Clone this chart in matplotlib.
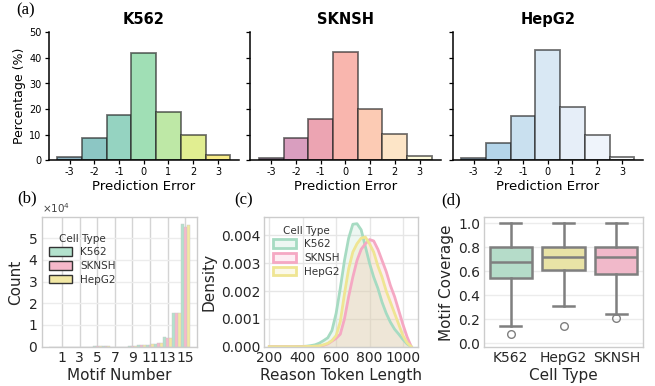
import matplotlib
matplotlib.use('Agg')
import matplotlib.pyplot as plt
import numpy as np
from matplotlib.patches import Patch
from matplotlib.ticker import ScalarFormatter

# ---------------- data ----------------
errors = [-3, -2, -1, 0, 1, 2, 3]
error_labels = ['-3', '-2', '-1', '0', '1', '2', '3']
pct_k562 = [1.2, 8.7, 17.8, 41.8, 18.9, 9.8, 1.9]
pct_sknsh = [0.8, 8.7, 16.3, 42.3, 19.9, 10.4, 1.7]
pct_hepg2 = [1.0, 6.9, 17.2, 43.2, 20.8, 9.9, 1.3]

colors_k562_a = ['#8fb3c2', '#8cc6c4', '#95d3c1', '#a0dfb5', '#bee8a6', '#e1ee91', '#f7eb87']
colors_sknsh_a = ['#b89cbc', '#d99ebf', '#eca4b2', '#f9b6ae', '#fccbb4', '#fde5c7', '#fefbdc']
colors_hepg2_a = ['#a9c8de', '#b4d5ea', '#c9e0ef', '#d9e8f4', '#e6eef8', '#eff4fb', '#fafcfe']

motif_numbers = list(range(0, 16))
count_k562 = [0, 0, 0, 0, 0, 100, 200, 0, 40, 500, 600, 1000, 1400, 4500, 15500, 56500]
count_sknsh = [0, 0, 0, 0, 0, 100, 200, 0, 60, 500, 700, 1000, 1500, 4100, 15500, 55200]
count_hepg2 = [0, 0, 0, 0, 0, 100, 200, 0, 60, 500, 700, 1200, 1500, 4100, 15500, 56000]

token_len = [200, 225, 250, 275, 300, 325, 350, 375, 400, 425, 450, 475, 500, 525, 550, 575,
             600, 625, 650, 675, 700, 725, 750, 775, 800, 825, 850, 875, 900, 925, 950, 975,
             1000, 1025, 1050]
dens_k562 = [0, 0, 0, 0, 0, 0, 0, 0.00001, 0.00001, 0.00002, 0.00004, 0.00007, 0.00013, 0.00022,
             0.00032, 0.00058, 0.0012, 0.0021, 0.0031, 0.0039, 0.0044, 0.00442, 0.0042, 0.0036,
             0.0030, 0.0025, 0.0021, 0.0016, 0.0012, 0.00088, 0.00063, 0.00045, 0.00026, 0.0001, 0.0]
dens_sknsh = [0, 0, 0, 0, 0, 0, 0, 0, 0, 0.00001, 0.00001, 0.00001, 0.00002, 0.00005,
              0.0001, 0.0002, 0.0003, 0.00045, 0.0010, 0.0018, 0.0025, 0.0031, 0.0035, 0.0037,
              0.00385, 0.0038, 0.0035, 0.0031, 0.0027, 0.0022, 0.0018, 0.0013, 0.0008, 0.00035, 0.0]
dens_hepg2 = [0, 0, 0, 0, 0, 0, 0, 0, 0, 0.00001, 0.00001, 0.00002, 0.00003, 0.00007,
              0.00012, 0.00022, 0.0004, 0.0009, 0.0019, 0.0028, 0.0034, 0.0037, 0.0039, 0.00394,
              0.0037, 0.0034, 0.0029, 0.0025, 0.0020, 0.0016, 0.0012, 0.0008, 0.0004, 0.00014, 0.0]

cell_types_d = ['K562', 'HepG2', 'SKNSH']
cov_med = [0.675, 0.72, 0.72]
cov_q1 = [0.54, 0.61, 0.575]
cov_q3 = [0.80, 0.80, 0.80]
cov_lo = [0.145, 0.31, 0.245]
cov_hi = [1.0, 1.0, 1.0]
cov_out = [[0.08], [0.145], [0.21]]

legend_types = ['K562', 'SKNSH', 'HepG2']
col_green = '#b3e2cd'
col_pink = '#f6b8ca'
col_yellow = '#f2e8a4'
line_green = '#a6dbc2'
line_pink = '#f5a8c3'
line_yellow = '#efe593'
box_colors = ['#b5dcc9', '#e9e3a6', '#f1b9ca']

# ---------------- figure ----------------
W, H = 655, 386
fig = plt.figure(figsize=(6.55, 3.86), dpi=100)


def box(x0, y0, x1, y1):
    return [x0 / W, 1 - y1 / H, (x1 - x0) / W, (y1 - y0) / H]


# Panel (a)
a_specs = [('K562', pct_k562, colors_k562_a, (48.5, 239.0)),
           ('SKNSH', pct_sknsh, colors_sknsh_a, (250.3, 440.5)),
           ('HepG2', pct_hepg2, colors_hepg2_a, (452.5, 643.0))]
for i, (name, vals, cols, (x0, x1)) in enumerate(a_specs):
    ax = fig.add_axes(box(x0, 32.3, x1, 160.3))
    ax.bar(errors, vals, width=1.0, color=cols, edgecolor=(0.15, 0.15, 0.15, 0.65), linewidth=1.3)
    ax.set_xlim(-3.85, 3.85)
    ax.set_ylim(0, 50)
    ax.set_yticks([0, 10, 20, 30, 40, 50])
    ax.set_xticks(errors)
    ax.set_xticklabels(error_labels)
    ax.spines['top'].set_visible(False)
    ax.spines['right'].set_visible(False)
    for s in ['left', 'bottom']:
        ax.spines[s].set_linewidth(1.1)
        ax.spines[s].set_color('black')
    ax.tick_params(labelsize=7, length=3, width=0.9, pad=2)
    if i == 0:
        ax.set_ylabel('Percentage (%)', fontsize=9, labelpad=2)
    else:
        ax.set_yticklabels([])
    ax.set_xlabel('Prediction Error', fontsize=9.5, labelpad=2)
    ax.set_title(name, fontsize=10.5, fontweight='bold', pad=6)


def style_grid(ax):
    ax.set_facecolor('white')
    for s in ax.spines.values():
        s.set_color('#cccccc')
        s.set_linewidth(1.0)
    ax.tick_params(length=0, labelsize=10, colors='#262626', pad=3)
    ax.set_axisbelow(True)


# Panel (b)
axb = fig.add_axes(box(41.7, 217.3, 196.7, 346.7))
style_grid(axb)
w = 1 / 3
for k, (cnt, col) in enumerate(zip([count_k562, count_sknsh, count_hepg2], [col_green, col_pink, col_yellow])):
    axb.bar(np.array(motif_numbers) - 0.5 + w * (k + 0.5), cnt, width=w, color=col,
            edgecolor='#c8c8c8', linewidth=0.3)
axb.set_xlim(-1.3, 16.3)
axb.set_ylim(0, 59600)
axb.set_xticks([1, 3, 5, 7, 9, 11, 13, 15])
axb.set_yticks([0, 10000, 20000, 30000, 40000, 50000])
fmt = ScalarFormatter(useMathText=True)
fmt.set_powerlimits((0, 0))
axb.yaxis.set_major_formatter(fmt)
axb.yaxis.get_offset_text().set_fontsize(7.5)
axb.yaxis.get_offset_text().set_color('#444444')
axb.grid(axis='x', color='#d4d4d4', linewidth=1.0)
axb.grid(axis='y', color='#ececec', linewidth=1.0)
axb.set_xlabel('Motif Number', fontsize=11, color='#262626', labelpad=2)
axb.set_ylabel('Count', fontsize=11, color='#262626', labelpad=3)
hb = [Patch(facecolor=c, edgecolor='#333333', linewidth=1.0) for c in [col_green, col_pink, col_yellow]]
legb = axb.legend(hb, legend_types, title='Cell Type', loc='upper left', frameon=False,
                  fontsize=7.5, title_fontsize=7.5, bbox_to_anchor=(0.0, 0.93),
                  handlelength=2.2, handleheight=0.9, labelspacing=0.35, borderaxespad=0.3)
legb.get_title().set_color('#333333')
for t in legb.get_texts():
    t.set_color('#333333')

# Panel (c)
axc = fig.add_axes(box(264.3, 217.3, 418.3, 346.7))
style_grid(axc)
for dens, lc in [(dens_k562, line_green), (dens_sknsh, line_pink), (dens_hepg2, line_yellow)]:
    axc.fill_between(token_len, dens, 0, color=lc, alpha=0.2, linewidth=0)
    axc.plot(token_len, dens, color=lc, linewidth=2.0)
axc.set_xlim(170, 1092)
axc.set_ylim(0, 0.00465)
axc.set_xticks([200, 400, 600, 800, 1000])
axc.set_yticks([0, 0.001, 0.002, 0.003, 0.004])
axc.set_yticklabels(['0.000', '0.001', '0.002', '0.003', '0.004'])
axc.grid(color='#e6e6e6', linewidth=1.0)
axc.set_xlabel('Reason Token Length', fontsize=11, color='#262626', labelpad=2)
axc.set_ylabel('Density', fontsize=11, color='#262626', labelpad=3)
hc = [Patch(facecolor=(*matplotlib.colors.to_rgb(c), 0.2), edgecolor=c, linewidth=2.0)
      for c in [line_green, line_pink, line_yellow]]
legc = axc.legend(hc, legend_types, title='Cell Type', loc='upper left', frameon=False,
                  fontsize=7.5, title_fontsize=7.5, handlelength=2.2, handleheight=0.9,
                  labelspacing=0.35, borderaxespad=0.4)
legc.get_title().set_color('#333333')
for t in legc.get_texts():
    t.set_color('#333333')

# Panel (d)
axd = fig.add_axes(box(484.3, 217.3, 642.7, 347.3))
style_grid(axd)
stats = []
for k in range(3):
    stats.append(dict(med=cov_med[k], q1=cov_q1[k], q3=cov_q3[k], whislo=cov_lo[k],
                      whishi=cov_hi[k], fliers=cov_out[k], label=cell_types_d[k]))
bp = axd.bxp(stats, positions=[0, 1, 2], widths=0.8, patch_artist=True,
             boxprops=dict(edgecolor='#7f7f7f', linewidth=1.8),
             medianprops=dict(color='#7f7f7f', linewidth=1.8),
             whiskerprops=dict(color='#7f7f7f', linewidth=1.8),
             capprops=dict(color='#7f7f7f', linewidth=1.8),
             flierprops=dict(marker='o', markerfacecolor='none', markeredgecolor='#7f7f7f',
                             markersize=5.5, markeredgewidth=1.0))
for patch, c in zip(bp['boxes'], box_colors):
    patch.set_facecolor(c)
axd.set_xlim(-0.5, 2.5)
axd.set_ylim(-0.035, 1.05)
axd.set_yticks([0.0, 0.2, 0.4, 0.6, 0.8, 1.0])
axd.grid(axis='y', color='#ececec', linewidth=1.0)
axd.grid(axis='x', visible=False)
axd.set_xlabel('Cell Type', fontsize=11, color='#262626', labelpad=2)
axd.set_ylabel('Motif Coverage', fontsize=11, color='#262626', labelpad=3)

# panel letters
for lab, (px, py) in [('(a)', (26, 10)), ('(b)', (27, 198)), ('(c)', (244, 200)), ('(d)', (451, 200))]:
    fig.text(px / W, 1 - py / H, lab, fontsize=12, family='Liberation Serif', ha='center', va='center')

fig.savefig('out.png', dpi=100)
